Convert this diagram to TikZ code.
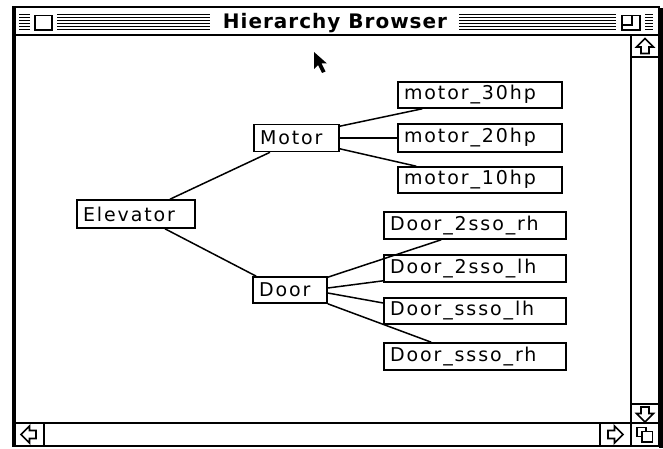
\documentclass[tikz,border=0pt]{standalone}
\usepackage{fontspec}
\newfontfamily\lblfont{DejaVu Sans}[LetterSpace=10]
\newfontfamily\ttlfont{DejaVu Sans}[LetterSpace=5]
\begin{document}
\begin{tikzpicture}[x=1pt,y=-1pt,
  box/.style={draw, line width=1.6pt, inner ysep=0pt, inner xsep=6pt, align=left, fill=white,
    font=\lblfont\fontsize{19}{19}\selectfont},
  link/.style={line width=1.5pt},
  chrome/.style={line width=1.6pt},
  stripe/.style={line width=1.2pt},
  sarrow/.style={line width=1.6pt, line join=miter}]
\useasboundingbox (0,0) rectangle (663,449);
\fill[white] (0,0) rectangle (663,449);

% ---- window frame ----
\draw[line width=2pt] (13,7) rectangle (659,446);
\fill (659,8) rectangle (662.5,448);
\fill (12,7) rectangle (15.5,446);
% title bar
\draw[chrome] (13,35) -- (659,35);
\foreach \yy in {14.5,17.5,20.5,23.5,26.5,29.5} \draw[stripe] (19,\yy) -- (653,\yy);
\fill[white] (30,11) rectangle (57,33);
\fill[white] (210,11) rectangle (459,33);
\fill[white] (616,11) rectangle (645,33);
\draw[line width=1.8pt] (35,15.5) rectangle (52,30);
\draw[line width=1.8pt] (622,15.5) rectangle (640,30);
\draw[line width=1.8pt] (622,25) -- (632,25) -- (632,15.5);
\node[font=\ttlfont\bfseries\fontsize{20}{20}\selectfont] (title) at (335,23) {Hierarchy Browser};

% scroll bars
\draw[chrome] (631,35) -- (631,446);
\draw[chrome] (631,57) -- (659,57);
\draw[chrome] (631,404) -- (659,404);
\draw[chrome] (13,423) -- (659,423);
\draw[chrome] (44,423) -- (44,446);
\draw[chrome] (600,423) -- (600,446);
\foreach \cx/\cy/\rot in {645/46.5/0, 645/414/180, 29/434.5/90, 615/434.5/-90}{
  \begin{scope}[shift={(\cx,\cy)}, rotate=\rot]
    \draw[sarrow] (0,-8) -- (8.5,0.5) -- (4,0.5) -- (4,7) -- (-4,7) -- (-4,0.5) -- (-8.5,0.5) -- cycle;
  \end{scope}}
\begin{scope}[shift={(645,434.5)}]
  \draw[line width=1.5pt] (-8,-7) rectangle (1,2);
  \fill[white] (-3,-3) rectangle (7.5,7.5);
  \draw[line width=1.5pt] (-3,-3) rectangle (7.5,7.5);
\end{scope}

% cursor
\fill (314,52) -- (314,69) -- (318,65) -- (322,73) -- (325.5,71.5) -- (321.5,63.5) -- (327,63.5) -- cycle;

% ---- tree ----
\node[box, text width=106pt, minimum height=28pt] (elev) at (136,214) {Elevator};
\node[box, text width=73pt, minimum height=27pt] (motor) at (296.5,138) {Motor};
\node[box, text width=62pt, minimum height=26pt] (door) at (290,290) {Door};
\node[box, text width=152pt, minimum height=26pt] (m30) at (480,95) {motor\_30hp};
\node[box, text width=152pt, minimum height=28pt] (m20) at (480,138) {motor\_20hp};
\node[box, text width=152pt, minimum height=26pt] (m10) at (480,180) {motor\_10hp};
\node[box, text width=170pt, minimum height=27pt] (d2rh) at (475,225.5) {Door\_2sso\_rh};
\node[box, text width=170pt, minimum height=27pt] (d2lh) at (475,268.5) {Door\_2sso\_lh};
\node[box, text width=170pt, minimum height=26pt] (dslh) at (475,311) {Door\_ssso\_lh};
\node[box, text width=170pt, minimum height=27pt] (dsrh) at (475,356.5) {Door\_ssso\_rh};

\draw[link] ([xshift=34pt]elev.north) -- ([xshift=-26.5pt]motor.south);
\draw[link] ([xshift=29pt]elev.south) -- ([xshift=4pt]door.north west);
\draw[link] ([yshift=-2.5pt]motor.north east) -- ([xshift=25pt]m30.south west);
\draw[link] (motor.east) -- (m20.west);
\draw[link] ([yshift=3.5pt]motor.south east) -- ([xshift=19pt]m10.north west);
\draw[link] ([yshift=-1pt]door.north east) -- ([xshift=58pt]d2rh.south west);
\draw[link] ([yshift=2pt]door.east) -- ([yshift=2pt]d2lh.south west);
\draw[link] ([yshift=-3pt]door.east) -- ([yshift=8pt]dslh.west);
\draw[link] (door.south east) -- ([xshift=48pt]dsrh.north west);
\end{tikzpicture}
\end{document}
